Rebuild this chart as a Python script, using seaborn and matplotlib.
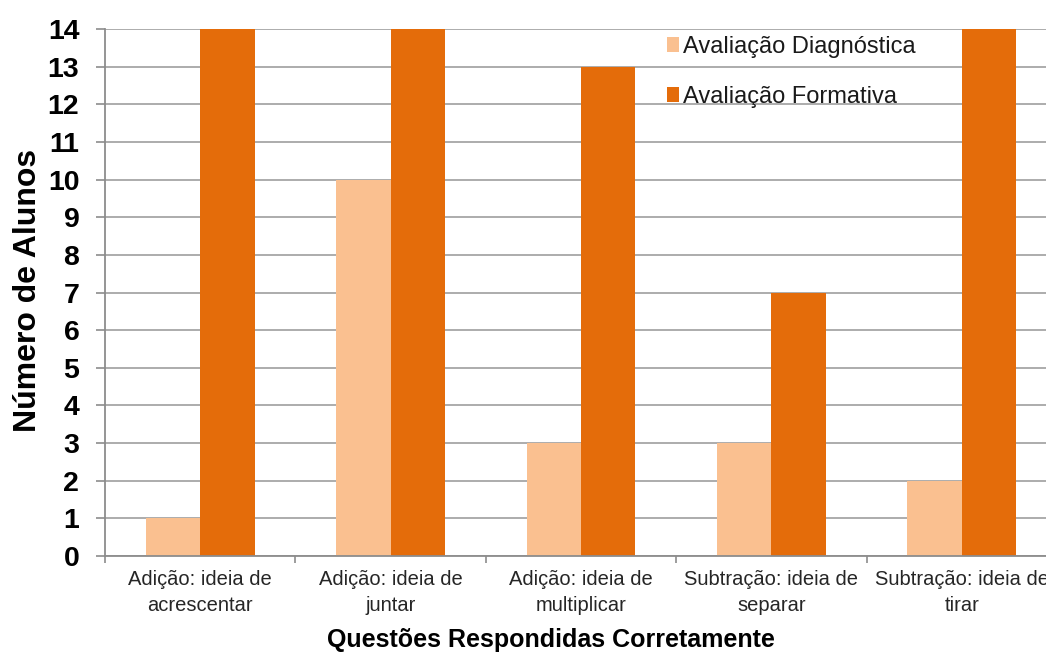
import matplotlib
matplotlib.use("Agg")
import matplotlib.pyplot as plt
import seaborn as sns
import pandas as pd
import numpy as np
from matplotlib.patches import Patch

# Questions and number of students answering each correctly
questoes = [
    "Adição: ideia de\nacrescentar",
    "Adição: ideia de\njuntar",
    "Adição: ideia de\nmultiplicar",
    "Subtração: ideia de\nseparar",
    "Subtração: ideia de\ntirar",
]
diagnostica = [1, 10, 3, 3, 2]
formativa = [14, 14, 13, 7, 14]
series = ["Avaliação Diagnóstica", "Avaliação Formativa"]
cores = ["#FAC090", "#E46C0A"]
y_ticks = list(range(0, 15))

df = pd.DataFrame({
    "questao": questoes * 2,
    "alunos": diagnostica + formativa,
    "avaliacao": [series[0]] * len(questoes) + [series[1]] * len(questoes),
})

sns.set_theme(style="white")
plt.rcParams["font.family"] = ["Liberation Sans", "DejaVu Sans"]

fig = plt.figure(figsize=(10.46, 6.56), dpi=100)
# the plot area runs past the right edge of the canvas
ax = fig.add_axes([0.1004, 0.1524, 0.910, 0.8034])

sns.barplot(data=df, x="questao", y="alunos", hue="avaliacao",
            palette=cores, saturation=1, width=0.572, dodge=True,
            order=questoes, hue_order=series, ax=ax, linewidth=0)

ax.set_xlim(-0.5, len(questoes) - 0.5)
ax.set_ylim(0, 14)
ax.set_yticks(y_ticks)
ax.set_yticklabels([str(v) for v in y_ticks], fontsize=20.5, fontweight="bold",
                   color="black")
ax.tick_params(axis="y", length=6.5, width=1.2, color="#8C8C8C", pad=12, left=True)

ax.set_xticks(range(len(questoes)))
ax.set_xticklabels(questoes, fontsize=14.5, color="#262626", linespacing=1.45)
ax.tick_params(axis="x", which="major", length=0, pad=10)
ax.set_xticks(np.arange(-0.5, len(questoes), 1.0), minor=True)
ax.tick_params(axis="x", which="minor", length=5, width=1.2, color="#8C8C8C",
               bottom=True)

ax.yaxis.grid(True, color="#A6A6A6", linewidth=1.3)
ax.xaxis.grid(False)
ax.set_axisbelow(True)

for s in ["top", "right"]:
    ax.spines[s].set_visible(False)
for s in ["left", "bottom"]:
    ax.spines[s].set_color("#8C8C8C")
    ax.spines[s].set_linewidth(1.3)

ax.set_ylabel("Número de Alunos", fontsize=23, fontweight="bold", color="black",
              va="center")
ax.yaxis.set_label_coords(-0.081, 0.503)
ax.set_xlabel("Questões Respondidas Corretamente", fontsize=18, fontweight="bold",
              color="black", va="center")
ax.xaxis.set_label_coords(0.4685, -0.159)

leg_handles = [Patch(facecolor=c, edgecolor="none") for c in cores]
ax.legend(leg_handles, series, loc="upper left", bbox_to_anchor=(0.6377, 0.9456),
          bbox_transform=fig.transFigure, frameon=False, fontsize=17,
          handlelength=0.51, handleheight=0.6, handletextpad=0.17,
          labelspacing=1.2, borderpad=0, borderaxespad=0,
          labelcolor="#1a1a1a")

fig.savefig("out.png", dpi=100)
